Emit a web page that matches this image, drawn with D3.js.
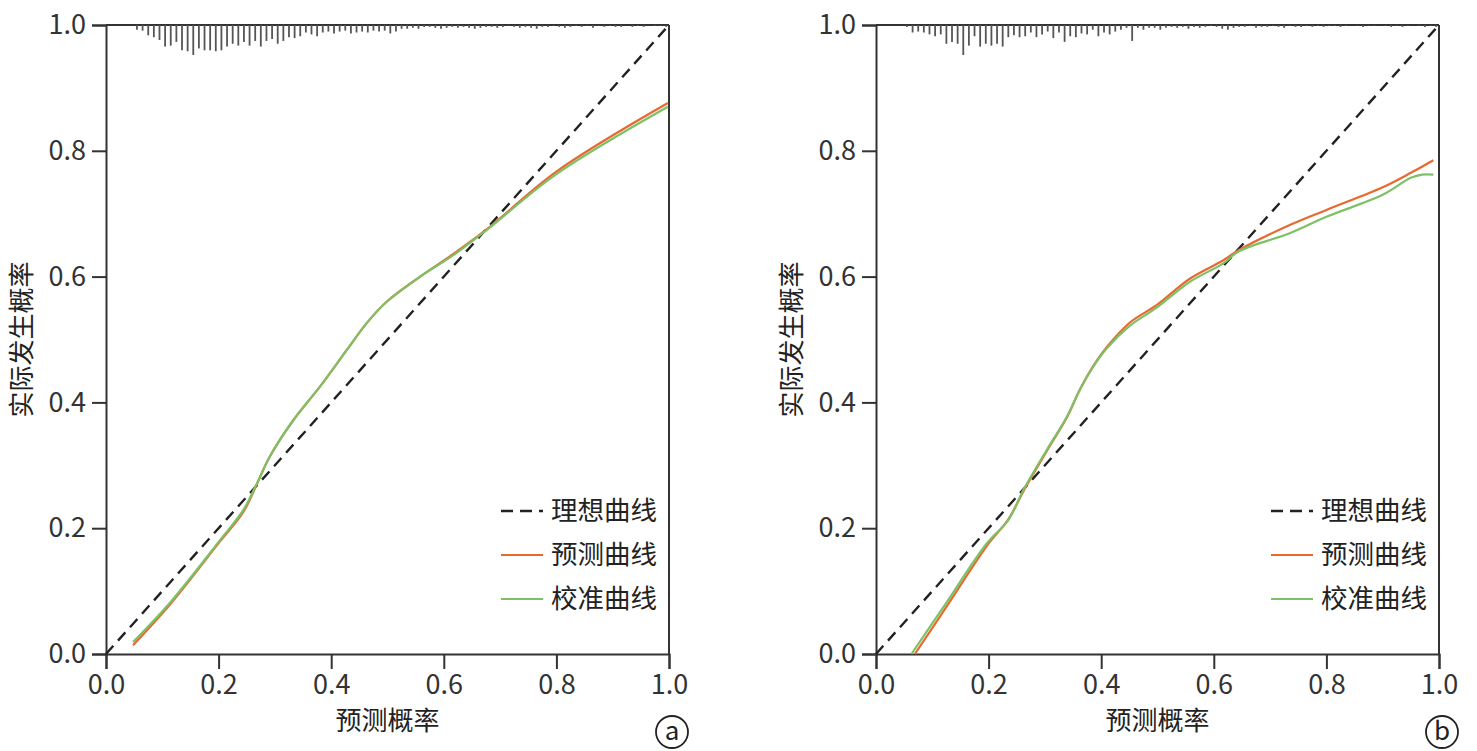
<!DOCTYPE html>
<html lang="zh">
    <head>
        <meta charset="utf-8">
        <script src="https://cdn.jsdelivr.net/npm/d3@7/dist/d3.min.js"></script>
        <style type="text/css">
        body {
          margin: 0;
          background: #fff;
          font-family: "Noto Sans CJK SC", "Noto Sans", sans-serif;
        }
        .axis path, .axis line {
          stroke: #333;
          stroke-width: 2;
        }
        .axis text {
          font-family: "Noto Sans CJK SC", "Noto Sans", sans-serif;
          font-size: 27px;
          fill: #333;
        }
        </style>
    </head>
    <body>
        <script>
        // ---- data ----
        var tickValues = [0, 0.2, 0.4, 0.6, 0.8, 1.0];
        var legendNames = ["理想曲线", "预测曲线", "校准曲线"];
        var xTitle = "预测概率";
        var yTitle = "实际发生概率";

        var idealX = [0, 1];
        var idealY = [0, 1];

        // panel a
        var predXA = [0.048, 0.114, 0.2025, 0.244, 0.268, 0.291, 0.333, 0.38, 0.4275, 0.463, 0.4985, 0.558, 0.617, 0.676, 0.8, 0.998];
        var predYA = [0.014, 0.079, 0.179, 0.226, 0.270, 0.314, 0.372, 0.425, 0.483, 0.526, 0.560, 0.600, 0.636, 0.675, 0.767, 0.876];
        var calXA  = [0.048, 0.114, 0.2025, 0.244, 0.268, 0.291, 0.333, 0.38, 0.4275, 0.463, 0.4985, 0.558, 0.617, 0.676, 0.8, 0.998];
        var calYA  = [0.019, 0.082, 0.181, 0.229, 0.271, 0.314, 0.372, 0.425, 0.483, 0.526, 0.560, 0.600, 0.634, 0.674, 0.763, 0.870];
        // rug counts per 0.01 bin, starting at 0.055
        var rugA = [5,6,11,13,16,23,22,18,27,28,32,25,27,27,28,27,23,20,22,18,22,17,23,17,15,20,17,13,14,12,8,10,12,8,7,9,7,6,9,8,7,8,6,7,6,9,7,
                    4,4,3,4,2,2,3,4,3,2,3,2,3,4,3,2,2,3,2,1,2,3,2,3,4,2,2,1,2,3,2,1,2,1,3,1,2,1,2,2,0,2,1,2,0,1,1,2];

        // panel b
        var predXB = [0.069, 0.12, 0.197, 0.235, 0.262, 0.303, 0.339, 0.362, 0.386, 0.41, 0.451, 0.499, 0.558, 0.617, 0.644, 0.735, 0.8, 0.9, 0.95, 0.99];
        var predYB = [0.0, 0.068, 0.172, 0.214, 0.259, 0.322, 0.376, 0.42, 0.458, 0.488, 0.527, 0.555, 0.597, 0.626, 0.642, 0.682, 0.706, 0.742, 0.765, 0.785];
        var calXB  = [0.063, 0.12, 0.197, 0.235, 0.262, 0.303, 0.339, 0.362, 0.386, 0.41, 0.451, 0.499, 0.558, 0.617, 0.644, 0.735, 0.8, 0.9, 0.95, 0.97, 0.99];
        var calYB  = [0.0, 0.075, 0.176, 0.213, 0.261, 0.324, 0.377, 0.42, 0.457, 0.486, 0.522, 0.551, 0.592, 0.621, 0.64, 0.669, 0.695, 0.73, 0.757, 0.762, 0.762];
        var rugB = [2,8,7,8,10,12,10,20,18,20,32,22,12,23,20,22,20,23,13,11,13,12,8,13,10,7,14,8,18,12,13,9,10,5,12,8,10,7,5,3,17,
                    3,5,3,3,5,3,2,3,2,4,2,3,2,1,2,4,5,3,2,2,1,3,2,2,1,2,3,1,2,2,1,2,1,2,1,1,2,1,0,1,2,1,1,0,1,2,1,2,1,0,1,2,1,2];
        var rugStart = 0.055;
        var rugStep = 0.01;

        // ---- layout ----
        var w = 1477;
        var h = 751;
        var plotTop = 25;
        var plotBottom = 654;
        var colours = ["#222", "#e8692e", "#7dc166"];

        var svg = d3.select("body")
                    .append("svg")
                    .attr("width", w)
                    .attr("height", h);

        function zip(xs, ys) {
          return xs.map(function(x, i) { return [x, ys[i]]; });
        }

        function drawPanel(left, right, predX, predY, calX, calY, rug, tag) {
          var g = svg.append("g");

          var xScale = d3.scaleLinear().domain([0, 1]).range([left, right]);
          var yScale = d3.scaleLinear().domain([0, 1]).range([plotBottom, plotTop]);
          var rugScale = d3.scaleLinear().domain([0, 32]).range([0, 30]);

          // axes
          g.append("g")
            .attr("class", "axis")
            .attr("transform", "translate(0," + plotBottom + ")")
            .call(d3.axisBottom(xScale).tickValues(tickValues).tickFormat(d3.format(".1f"))
                  .tickSizeOuter(0).tickSize(15).tickPadding(6));

          g.append("g")
            .attr("class", "axis")
            .attr("transform", "translate(" + left + ",0)")
            .call(d3.axisLeft(yScale).tickValues(tickValues).tickFormat(d3.format(".1f"))
                  .tickSizeOuter(0).tickSize(14).tickPadding(6));

          // top and right of the frame
          g.append("line")
            .attr("x1", left).attr("x2", right)
            .attr("y1", plotTop).attr("y2", plotTop)
            .attr("stroke", "#333").attr("stroke-width", 2);
          g.append("line")
            .attr("x1", right).attr("x2", right)
            .attr("y1", plotTop).attr("y2", plotBottom)
            .attr("stroke", "#333").attr("stroke-width", 2);

          // rug hanging from the top
          g.selectAll(".rug")
            .data(rug)
            .enter()
            .append("line")
            .attr("class", "rug")
            .attr("x1", function(d, i) { return xScale(rugStart + i * rugStep); })
            .attr("x2", function(d, i) { return xScale(rugStart + i * rugStep); })
            .attr("y1", plotTop)
            .attr("y2", function(d) { return plotTop + rugScale(d); })
            .attr("stroke", "#555")
            .attr("stroke-width", 1.8);

          var line = d3.line()
            .x(function(d) { return xScale(d[0]); })
            .y(function(d) { return yScale(d[1]); })
            .curve(d3.curveCatmullRom);

          // ideal line
          g.append("path")
            .datum(zip(idealX, idealY))
            .attr("d", line)
            .attr("fill", "none")
            .attr("stroke", colours[0])
            .attr("stroke-width", 2.4)
            .attr("stroke-dasharray", "11,7");

          g.append("path")
            .datum(zip(predX, predY))
            .attr("d", line)
            .attr("fill", "none")
            .attr("stroke", colours[1])
            .attr("stroke-width", 2.2);

          g.append("path")
            .datum(zip(calX, calY))
            .attr("d", line)
            .attr("fill", "none")
            .attr("stroke", colours[2])
            .attr("stroke-width", 2.2);

          // legend
          var leg = g.append("g");
          legendNames.forEach(function(name, i) {
            var y = 511 + i * 44;
            leg.append("line")
              .attr("x1", right - 168).attr("x2", right - 126)
              .attr("y1", y).attr("y2", y)
              .attr("stroke", colours[i])
              .attr("stroke-width", i == 0 ? 2.4 : 2)
              .attr("stroke-dasharray", i == 0 ? "12,7" : null);
            leg.append("text")
              .attr("x", right - 118)
              .attr("y", y)
              .attr("dy", "0.35em")
              .style("font-size", "26.5px")
              .style("fill", "#222")
              .text(name);
          });

          // axis titles
          g.append("text")
            .attr("x", (left + right) / 2)
            .attr("y", 730)
            .attr("text-anchor", "middle")
            .style("font-size", "26px")
            .style("fill", "#222")
            .text(xTitle);

          g.append("text")
            .attr("transform", "translate(" + (left - 75) + "," + ((plotTop + plotBottom) / 2) + ") rotate(-90)")
            .attr("text-anchor", "middle")
            .style("font-size", "26px")
            .style("fill", "#222")
            .text(yTitle);

          // panel tag
          g.append("circle")
            .attr("cx", right + 3).attr("cy", 732).attr("r", 16)
            .attr("fill", "none").attr("stroke", "#222").attr("stroke-width", 1.8);
          g.append("text")
            .attr("x", right + 3).attr("y", 731)
            .attr("dy", "0.35em")
            .attr("text-anchor", "middle")
            .style("font-size", "26px")
            .style("fill", "#222")
            .text(tag);
        }

        drawPanel(106, 669, predXA, predYA, calXA, calYA, rugA, "a");
        drawPanel(876, 1439, predXB, predYB, calXB, calYB, rugB, "b");
        </script>
    </body>
</html>
